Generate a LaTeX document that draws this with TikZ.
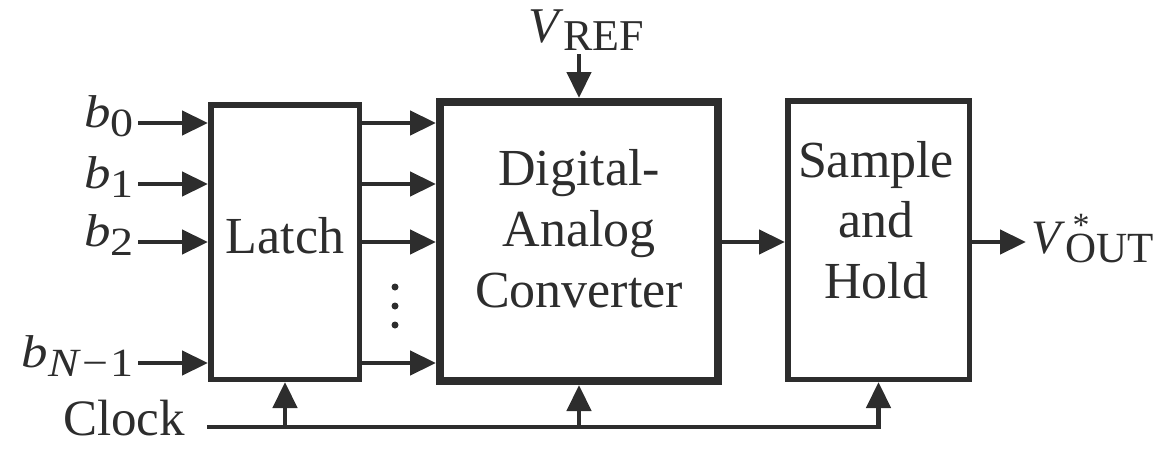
\documentclass[tikz,border=0pt]{standalone}
\usepackage{fontspec}
\setmainfont{Liberation Serif}
\newfontfamily\wfont{Liberation Serif}[FakeStretch=1.15]
\usetikzlibrary{arrows.meta}
\definecolor{ink}{RGB}{45,45,45}
\newcommand\fsz[1]{\fontsize{#1}{#1}\selectfont}
\begin{document}
\begin{tikzpicture}[x=1pt,y=-1pt,line join=miter,
  arr/.style={draw=ink,line width=4.5pt,-{Triangle[length=26pt,width=24pt]}},
  blk/.style={draw=ink,fill=white,rectangle,inner sep=0pt},
  lbl/.style={inner sep=0pt,text=ink}]
\useasboundingbox (0,0) rectangle (1160,450);
% blocks
\node[blk,line width=5.5pt,minimum width=148.5pt,minimum height=274.5pt] (latch) at (285,242) {};
\node[blk,line width=8pt,minimum width=278pt,minimum height=279pt] (dac) at (579,241.5) {};
\node[blk,line width=5.5pt,minimum width=181.5pt,minimum height=278.5pt] (sh) at (878.5,240) {};
% block texts
\node[lbl,anchor=base] (latchtxt) at (285,253) {\fsz{52}Latch};
\node[lbl,align=center,font=\fontsize{52}{61}\selectfont] (dactxt) at (579,228.3) {Digital-\\Analog\\Converter};
\node[lbl,align=center,font=\fontsize{52}{60.5}\selectfont] (shtxt) at (876,219.8) {Sample\\and\\Hold};
% input rows
\coordinate (r0) at (138,123);
\coordinate (r1) at (138,184);
\coordinate (r2) at (138,242);
\coordinate (r3) at (138,363);
\node[lbl,anchor=base east] (b0) at (134,127) {\wfont\fsz{46}\textit{b}\raisebox{-9pt}{\fsz{40}0}};
\node[lbl,anchor=base east] (b1) at (134,188) {\wfont\fsz{46}\textit{b}\raisebox{-9pt}{\fsz{40}1}};
\node[lbl,anchor=base east] (b2) at (134,246) {\wfont\fsz{46}\textit{b}\raisebox{-9pt}{\fsz{40}2}};
\node[lbl,anchor=base east] (bn) at (134,367) {\wfont\fsz{46}\textit{b}\raisebox{-9pt}{\fsz{40}\textit{N}\hspace{2pt}−\hspace{2pt}1}};
\foreach \r in {r0,r1,r2,r3}{
  \draw[arr] (\r) -- (\r -| latch.west);
  \draw[arr] (\r -| latch.east) -- (\r -| dac.west);
}
% dots
\fill[ink] (395,287) circle (3.5pt);
\fill[ink] (395,306) circle (3.5pt);
\fill[ink] (395,325) circle (3.5pt);
% reference voltage
\node[lbl,anchor=base west] (vref) at (528,42) {\fsz{50}\textit{V}\raisebox{-8pt}{\fsz{44}REF}};
\coordinate (vin) at (579,54);
\draw[arr] (vin) -- (dac.north);
% DAC to S&H
\draw[arr] (r2 -| dac.east) -- (r2 -| sh.west);
% output
\node[lbl,anchor=base west] (vout) at (1031,253) {\fsz{48}\textit{V}\rlap{\hspace{7.4pt}\raisebox{17pt}{\fsz{34}*}}\raisebox{-9pt}{\fsz{43}OUT}};
\coordinate (oin) at (1026,242);
\draw[arr] (sh.east |- oin) -- (oin);
% clock
\node[lbl,anchor=base west] (clock) at (63,435) {\fsz{51}Clock};
\coordinate (clk) at (207,427);
\draw[arr] (clk) -| (sh.south);
\draw[arr] (clk -| latch.south) -- (latch.south);
\draw[arr] (clk -| dac.south) -- (dac.south);
\end{tikzpicture}
\end{document}
